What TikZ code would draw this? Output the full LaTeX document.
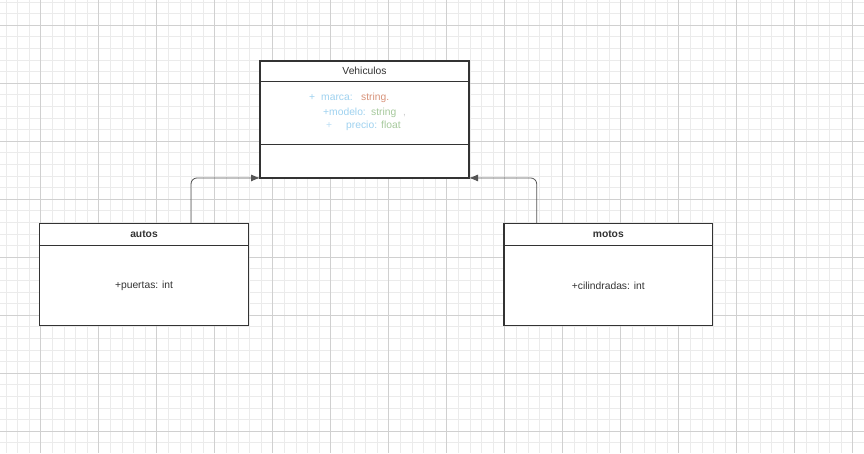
\documentclass[tikz,border=0pt]{standalone}
\usepackage{fontspec}
\setmainfont{Liberation Sans}
\usetikzlibrary{positioning, arrows.meta}

\definecolor{gridminor}{HTML}{EBEBEB}
\definecolor{gridmajor}{HTML}{D0D0D0}
\definecolor{attrblue}{HTML}{9FD2F0}
\definecolor{attrred}{HTML}{D8937A}
\definecolor{attrgreen}{HTML}{A6C99C}
\definecolor{edgegray}{HTML}{555555}
\definecolor{inkgray}{HTML}{333333}

\begin{document}
\begin{tikzpicture}[
    x=1pt, y=-1pt,
    % Define class box styles
    classbox/.style={draw=inkgray, line width=1.2pt, outer sep=0pt, inner sep=0pt, fill=white, text=inkgray, font=\fontsize{10.3}{12}\selectfont},
    attr/.style={anchor=mid west, inner sep=0pt, font=\fontsize{10.3}{12}\selectfont},
    inherit/.style={draw=edgegray, line width=0.8pt, rounded corners=6pt, -{Latex[length=9pt,width=7pt]}}
]

% Canvas size
\useasboundingbox (0,0) rectangle (864,453);
\fill[white] (0,0) rectangle (864,453);

% Grid lines
\foreach \i in {-3,...,71} {
    \draw[gridminor, line width=0.6pt] ({40.7+11.6*\i},0) -- ({40.7+11.6*\i},453);
}
\foreach \j in {-2,...,36} {
    \draw[gridminor, line width=0.6pt] (0,{25+11.6*\j}) -- (864,{25+11.6*\j});
}
\foreach \i in {0,...,14} {
    \draw[gridmajor, line width=0.7pt] ({40.7+58*\i},0) -- ({40.7+58*\i},453);
}
\foreach \j in {0,...,7} {
    \draw[gridmajor, line width=0.7pt] (0,{25+58*\j}) -- (864,{25+58*\j});
}

% Parent class
\node[classbox, minimum width=209, minimum height=20.7] (veh-head) at (364.5,71.3) {Vehiculos};
\node[classbox, minimum width=209, minimum height=62.6, below=0pt of veh-head] (veh-attr) {};
\node[classbox, minimum width=209, minimum height=33.7, below=0pt of veh-attr] (veh-foot) {};

% Attributes of the parent class
\node[attr, text=attrblue] (plus-marca) at (309,98.3) {+};
\node[attr, text=attrblue] (marca) at (321,98.3) {marca:};
\node[attr, text=attrred] (marca-type) at (361,98.3) {string.};
\node[attr, text=attrblue] (modelo) at (323,113.3) {+modelo:};
\node[attr, text=attrgreen] (modelo-type) at (371,113.3) {string};
\node[attr, text=black!20] (modelo-comma) at (403,113.3) {,};
\node[attr, text=attrblue!70] (plus-precio) at (326,126) {+};
\node[attr, text=attrblue] (precio) at (346,126) {precio:};
\node[attr, text=attrgreen] (precio-type) at (381,126) {float};

% Child classes
\node[classbox, minimum width=209.4, minimum height=22.4] (autos-head) at (144,234.5) {\bfseries autos};
\node[classbox, minimum width=209.4, minimum height=80, below=0pt of autos-head] (autos-body) {+puertas: int};
\node[classbox, minimum width=208.7, minimum height=22.4] (motos-head) at (608.3,234.5) {\bfseries motos};
\node[classbox, minimum width=208.7, minimum height=80, below=0pt of motos-head] (motos-body) {+cilindradas: int};

% Inheritance arrows
\draw[inherit] ([xshift=47pt]autos-head.north) |- (veh-foot.south west);
\draw[inherit] ([xshift=-71.6pt]motos-head.north) |- (veh-foot.south east);

\end{tikzpicture}
\end{document}
